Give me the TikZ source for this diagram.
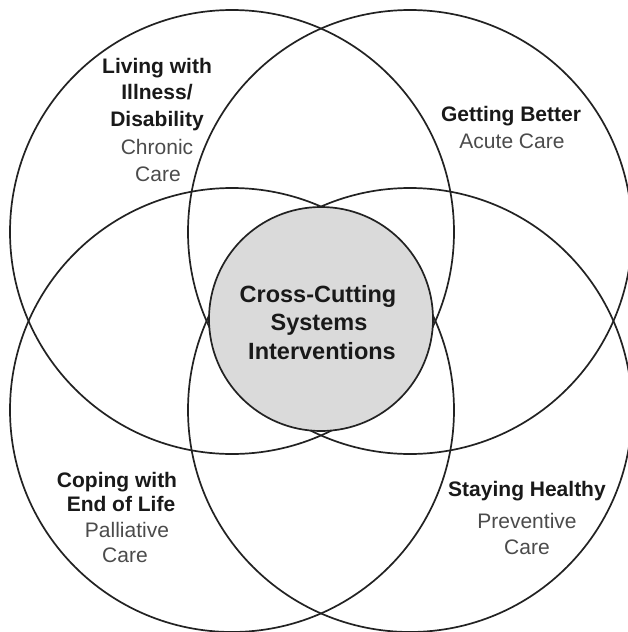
\documentclass[tikz,border=0pt]{standalone}
\usepackage{fontspec}
\setmainfont{Liberation Sans}
\definecolor{ringcol}{RGB}{34,34,34}
\definecolor{coregray}{RGB}{218,218,218}
\definecolor{titlecol}{RGB}{25,25,25}
\definecolor{subcol}{RGB}{75,75,75}
\tikzset{
  ring/.style={circle, draw=ringcol, line width=1.7pt, inner sep=0pt, minimum size=444pt},
  core/.style={circle, draw=ringcol, fill=coregray, line width=1.7pt, inner sep=0pt, minimum size=224pt},
  ttl/.style={anchor=base, inner sep=0pt, text=titlecol, font=\fontsize{21}{26}\selectfont\bfseries},
  sub/.style={anchor=base, inner sep=0pt, text=subcol, font=\fontsize{21}{26}\selectfont},
  coretxt/.style={anchor=base, inner sep=0pt, text=titlecol, font=\fontsize{23.5}{29}\selectfont\bfseries}
}
\begin{document}
\begin{tikzpicture}[x=1pt, y=-1pt]
\useasboundingbox (0,0) rectangle (628,632);
\clip (0,0) rectangle (628,632);
\fill[white] (0,0) rectangle (628,632);
% four rings
\node[ring] (chronic) at (232,232) {};
\node[ring] (acute) at (410,232) {};
\node[ring] (palliative) at (232,410) {};
\node[ring] (preventive) at (410,410) {};
% core
\node[core] (corecircle) at (321,319) {};
\node[coretxt] (c1) at (318,302.4) {Cross-Cutting};
\node[coretxt] (c2) at (319,330.4) {Systems};
\node[coretxt] (c3) at (322,359.4) {Interventions};
% top left
\node[ttl] (tl1) at (157,73.5) {Living with};
\node[ttl] (tl2) at (157,99.5) {Illness/};
\node[ttl] (tl3) at (157,126) {Disability};
\node[sub] (tl4) at (157,154.5) {Chronic};
\node[sub] (tl5) at (158,181) {Care};
% top right
\node[ttl] (tr1) at (511,121.5) {Getting Better};
\node[sub] (tr2) at (512,148.5) {Acute Care};
% bottom left
\node[ttl] (bl1) at (117,487.5) {Coping with};
\node[ttl] (bl2) at (121,511.5) {End of Life};
\node[sub] (bl3) at (127,537.5) {Palliative};
\node[sub] (bl4) at (125,562.5) {Care};
% bottom right
\node[ttl] (br1) at (527,496.5) {Staying Healthy};
\node[sub] (br2) at (527,528.5) {Preventive};
\node[sub] (br3) at (527,554.5) {Care};
\end{tikzpicture}
\end{document}
